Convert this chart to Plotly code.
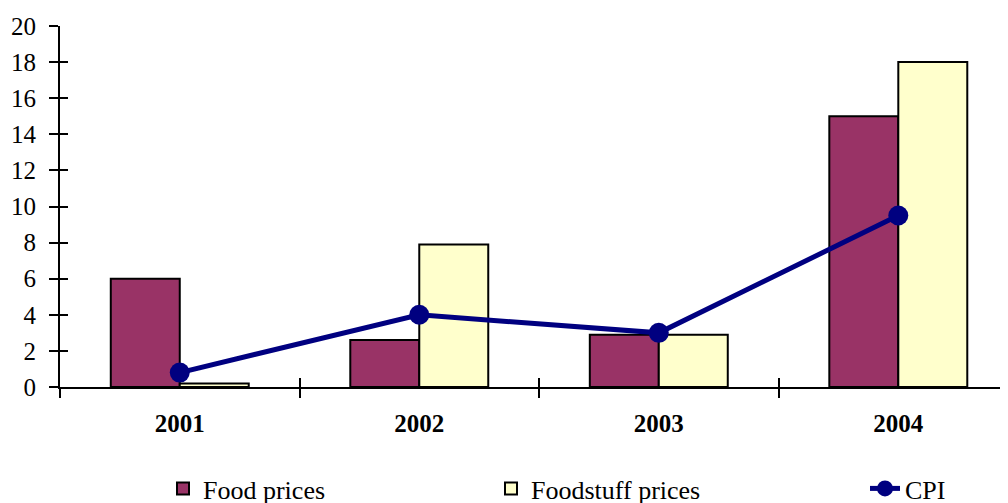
import plotly.graph_objects as go

years = ["2001", "2002", "2003", "2004"]
food_prices = [6.0, 2.6, 2.9, 15.0]
foodstuff_prices = [0.2, 7.9, 2.9, 18.0]
cpi = [0.8, 4.0, 3.0, 9.5]
y_ticks = list(range(0, 21, 2))

FONT = "Liberation Serif"
W, H = 1008, 503
OFF = 8  # page body margin offset

fig = go.Figure()
fig.add_trace(go.Bar(
    x=years, y=food_prices, name="Food prices",
    marker=dict(color="#993366", line=dict(color="black", width=2)),
    legend="legend",
))
fig.add_trace(go.Bar(
    x=years, y=foodstuff_prices, name="Foodstuff prices",
    marker=dict(color="#FFFFCC", line=dict(color="black", width=2)),
    legend="legend2",
))
fig.add_trace(go.Scatter(
    x=years, y=cpi, name="CPI", mode="lines+markers",
    line=dict(color="#000080", width=5),
    marker=dict(color="#000080", size=20),
    legend="legend3",
))
# invisible trace for overlay axes (crossing tick marks)
fig.add_trace(go.Scatter(x=[None], y=[None], xaxis="x2", yaxis="y2",
                         showlegend=False, hoverinfo="skip"))

xr = [-0.5, 3.458]
LEG_Y = 1 - (491 - OFF - 26) / H


def leg(px):
    return dict(x=(px - OFF) / W, y=LEG_Y, xref="container", yref="container",
                xanchor="left", yanchor="top", orientation="h",
                font=dict(family=FONT, size=26, color="black"),
                bgcolor="rgba(0,0,0,0)")


fig.update_layout(
    width=W, height=H,
    margin=dict(l=60 - OFF, r=OFF, t=26 - OFF, b=H - (387 - OFF)),
    paper_bgcolor="white", plot_bgcolor="white",
    font=dict(family=FONT, color="black", size=25),
    barmode="group", bargap=0.424, bargroupgap=0,
    xaxis=dict(
        type="category", range=xr, tickson="boundaries", automargin=False,
        ticks="outside", ticklen=9, tickwidth=2, tickcolor="black",
        showline=True, linecolor="black", linewidth=2, showgrid=False,
        tickfont=dict(family=FONT, size=25, color="black", weight="bold"),
        ticklabelstandoff=13,
        zeroline=False,
    ),
    yaxis=dict(
        range=[0, 20], tickvals=y_ticks, automargin=False,
        ticks="outside", ticklen=9, tickwidth=2, tickcolor="black",
        showline=True, linecolor="black", linewidth=2, showgrid=False,
        zeroline=False,
        tickfont=dict(family=FONT, size=25, color="black"),
        ticklabelstandoff=8,
    ),
    xaxis2=dict(
        overlaying="x", range=xr, tickvals=[0.5, 1.5, 2.5], automargin=False,
        ticks="inside", ticklen=9, tickwidth=2, tickcolor="black",
        showticklabels=False, showline=False, showgrid=False, zeroline=False,
        side="bottom",
    ),
    yaxis2=dict(
        overlaying="y", range=[0, 20], tickvals=y_ticks, automargin=False,
        ticks="inside", ticklen=8, tickwidth=2, tickcolor="black",
        showticklabels=False, showline=False, showgrid=False, zeroline=False,
        side="left",
    ),
    legend=leg(163),
    legend2=leg(491),
    legend3=leg(865),
)

fig.write_html("out.html")
